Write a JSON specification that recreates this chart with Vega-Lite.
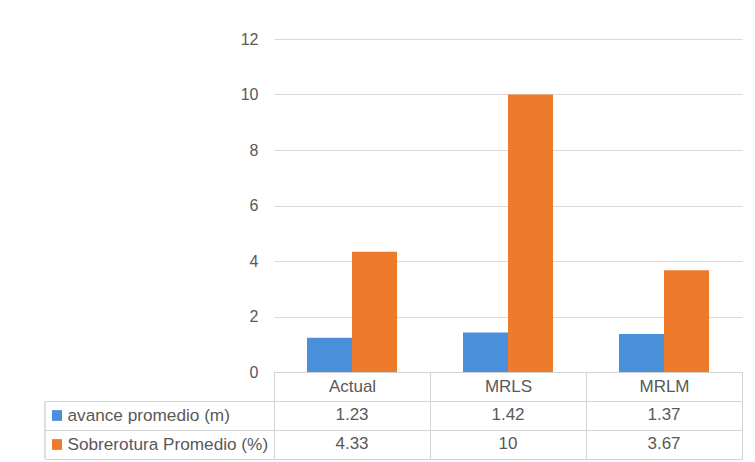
{
  "$schema": "https://vega.github.io/schema/vega-lite/v6.json",
  "data": {"values": [
    {"category": "Actual", "series": "avance promedio (m)", "value": 1.23},
    {"category": "MRLS", "series": "avance promedio (m)", "value": 1.42},
    {"category": "MRLM", "series": "avance promedio (m)", "value": 1.37},
    {"category": "Actual", "series": "Sobrerotura Promedio (%)", "value": 4.33},
    {"category": "MRLS", "series": "Sobrerotura Promedio (%)", "value": 10},
    {"category": "MRLM", "series": "Sobrerotura Promedio (%)", "value": 3.67}
  ]},
  "padding": {"left": 44, "top": 31, "right": 13, "bottom": 0},
  "spacing": 29,
  "bounds": "flush",
  "background": "white",
  "config": {
    "font": "Liberation Sans",
    "view": {"stroke": null},
    "axis": {"labelColor": "#595959", "labelFont": "Liberation Sans", "labelFontSize": 16, "title": null, "labelLimit": 0}
  },
  "vconcat": [
    {
      "width": 468,
      "height": 333,
      "mark": {"type": "bar"},
      "encoding": {
        "x": {"field": "category", "type": "nominal", "sort": ["Actual", "MRLS", "MRLM"],
          "scale": {"paddingInner": 0.423, "paddingOuter": 0.2115},
          "axis": {"labels": false, "ticks": false, "domain": true, "domainColor": "#d4d4d4", "grid": false, "minExtent": 0, "maxExtent": 0}},
        "xOffset": {"field": "series", "type": "nominal", "sort": ["avance promedio (m)", "Sobrerotura Promedio (%)"],
          "scale": {"paddingInner": 0, "paddingOuter": 0}},
        "y": {"field": "value", "type": "quantitative", "scale": {"domain": [0, 12]},
          "axis": {"values": [0, 2, 4, 6, 8, 10, 12], "ticks": false, "domain": false, "labelPadding": 16, "gridColor": "#d9d9d9"}},
        "color": {"field": "series", "type": "nominal",
          "scale": {"domain": ["avance promedio (m)", "Sobrerotura Promedio (%)"], "range": ["#4A8FDA", "#EE7A2C"]},
          "legend": null}
      }
    },
    {
      "width": 468,
      "height": 58,
      "layer": [
        {
          "mark": {"type": "text", "fontSize": 17, "color": "#595959", "font": "Liberation Sans", "dy": -1},
          "encoding": {
            "x": {"field": "category", "type": "nominal", "sort": ["Actual", "MRLS", "MRLM"],
              "scale": {"paddingInner": 0, "paddingOuter": 0},
              "axis": {"orient": "top", "tickBand": "extent", "tickSize": 29, "tickColor": "#d4d4d4", "labelPadding": -23, "labelAngle": 0, "labelFontSize": 17,
                "grid": true, "gridColor": "#d4d4d4", "domainColor": "#d4d4d4", "minExtent": 29, "maxExtent": 29}},
            "y": {"field": "series", "type": "nominal", "sort": ["avance promedio (m)", "Sobrerotura Promedio (%)"],
              "scale": {"paddingInner": 0, "paddingOuter": 0},
              "axis": {"orient": "left", "tickBand": "extent", "tickSize": 229, "tickColor": "#d4d4d4", "labelAlign": "left", "labelPadding": -22, "labelFontSize": 17.2,
                "grid": true, "gridColor": "#d4d4d4", "domainColor": "#d4d4d4"}},
            "text": {"field": "value", "type": "nominal"}
          }
        },
        {
          "mark": {"type": "point", "shape": "square", "filled": true, "size": 100, "opacity": 1},
          "encoding": {
            "x": {"datum": "Actual", "type": "nominal", "bandPosition": -1.391},
            "y": {"field": "series", "type": "nominal", "sort": ["avance promedio (m)", "Sobrerotura Promedio (%)"]},
            "color": {"field": "series", "type": "nominal",
              "scale": {"domain": ["avance promedio (m)", "Sobrerotura Promedio (%)"], "range": ["#4A8FDA", "#EE7A2C"]},
              "legend": null}
          }
        },
        {
          "mark": {"type": "rule", "color": "#d4d4d4", "strokeOpacity": 0.4},
          "encoding": {
            "x": {"datum": "Actual", "type": "nominal", "bandPosition": -1.468}
          }
        }
      ]
    }
  ]
}
